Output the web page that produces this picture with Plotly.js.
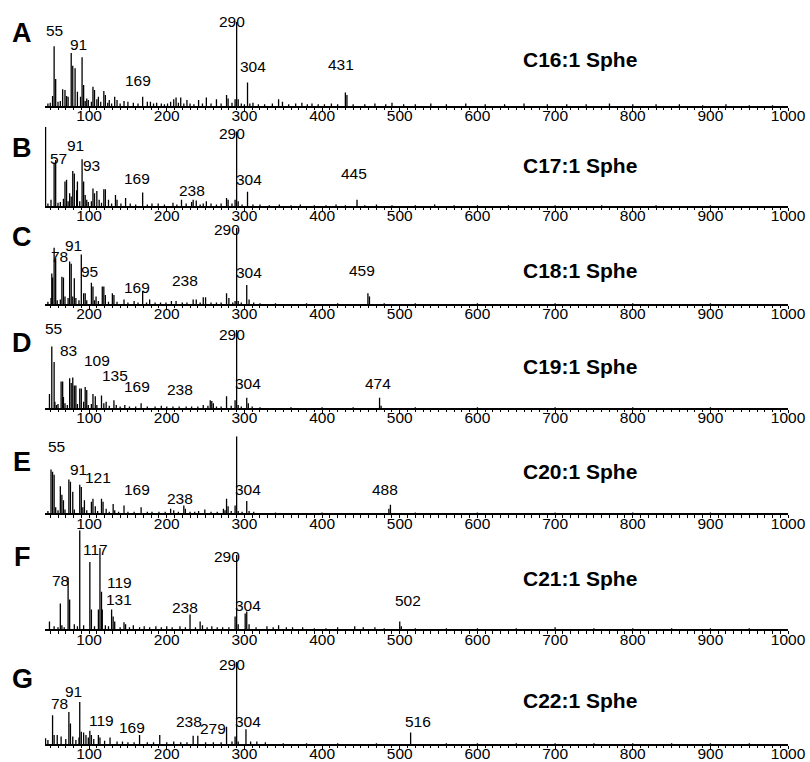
<!DOCTYPE html>
<html><head><meta charset="utf-8">
<script src="https://cdn.plot.ly/plotly-3.0.1.min.js"></script>
<style>html,body{margin:0;padding:0;background:#fff}</style>
</head><body><div id="chart" style="width:810px;height:762px"></div>
<script>
// ---------- DATA (m/z, relative intensity %) ----------
const panelLetters = ['A','B','C','D','E','F','G'];
const compounds = ['C16:1 Sphe','C17:1 Sphe','C18:1 Sphe','C19:1 Sphe','C20:1 Sphe','C21:1 Sphe','C22:1 Sphe'];
const tickValues = [100,200,300,400,500,600,700,800,900,1000];
const tickLabels = ['100','200','300','400','500','600','700','800','900','1000'];
const tickLabelsC = ['200','200','300','400','500','600','700','800','900','1000'];

const A_mz  = [47,50,53,55,57,60,63,66,69,71,73,77,79,82,85,89,91,93,95,97,99,103,105,107,110,112,115,119,121,124,126,129,133,136,140,145,150,157,163,169,175,179,183,187,193,197,201,205,209,212,215,218,222,226,230,235,241,246,251,257,264,270,277,279,284,288,290,292,296,300,304,307,311,318,326,336,344,349,357,366,374,381,387,395,403,412,420,430,432,440,455,468,482,490,505,520,540,560,585,610,635,660,690,715,740,770,800,830,860,890,920,950,980];
const A_int = [3,4,12,71,32,5,6,20,19,12,11,63,48,45,17,11,58,25,6,9,7,5,23,19,8,11,5,18,13,4,7,3,11,7,3,6,5,4,3,11,5,5,3,4,3,2,3,5,8,10,4,10,3,7,3,2,7,3,10,3,8,3,13,9,4,8,100,8,3,2,28,3,4,2,2,3,8,5,2,3,4,2,3,2,2,3,2,16,13,2,2,3,2,4,2,2,3,2,3,2,2,3,2,2,2,3,2,2,2,1,2,1,1];
const A_labText = ['55','91','169','290','304','431'];
const A_labX = [55,86,163,284,311,424];
const A_labY = [82,65,23,100,39,42];

const B_mz  = [44,47,51,55,57,60,63,67,69,71,73,75,77,79,81,84,85,88,91,93,95,97,99,103,105,107,110,113,116,119,121,125,129,134,136,141,147,153,160,169,175,181,189,197,208,213,219,225,232,234,238,243,247,251,257,264,270,277,279,284,288,290,292,297,304,311,320,332,345,360,372,390,405,418,430,445,455,470,490,520,545,570,600,640,700,760,830,900];
const B_int = [100,3,8,55,58,4,5,9,31,33,6,16,12,44,41,20,31,6,59,31,14,8,5,6,22,16,19,8,4,21,21,8,3,14,8,3,10,3,2,17,2,3,3,2,4,2,8,3,5,8,7,2,3,6,3,2,3,10,8,3,8,94,6,2,18,2,2,1,2,1,2,1,1,2,1,8,1,2,1,1,2,1,1,1,1,1,1,1];
const B_labText = ['57','91','93','169','238','290','304','445'];
const B_labX = [60,82,103,162,232,284,306,441];
const B_labY = [52,68,43,26,11,92,25,33];

const C_mz  = [47,51,52,53,55,57,59,63,65,67,69,73,75,77,79,81,83,87,90,93,95,97,103,105,107,109,112,117,119,121,125,130,132,136,145,150,158,163,169,174,178,185,192,199,206,212,220,226,234,238,243,247,250,257,264,270,277,280,285,288,290,292,296,303,306,312,320,340,380,420,459,461,480,520,600,700,800,900];
const C_int = [3,8,40,35,74,60,5,6,36,35,10,8,56,53,10,34,8,5,65,14,14,5,28,23,5,10,4,23,23,12,3,14,12,3,6,2,4,2,17,2,6,2,2,2,4,4,2,2,6,6,2,9,9,2,2,2,14,8,2,4,100,4,2,25,6,2,1,1,1,1,14,10,1,1,1,1,1,1];
const C_labText = ['78','91','95','169','238','290','304','459'];
const C_labX = [62,80,101,162,224,278,306,452];
const C_labY = [54,69,34,13,23,98,33,36];

const D_mz  = [49,52,55,56,58,60,64,66,67,69,72,75,77,79,81,83,85,88,90,93,95,97,99,103,105,108,110,116,119,122,126,132,135,140,146,152,160,167,175,185,193,200,208,216,225,232,240,247,253,256,258,260,264,270,277,283,288,290,292,296,303,305,310,320,360,400,440,474,476,520,600,700,800,900];
const D_int = [18,79,59,8,4,5,34,34,14,6,4,38,32,39,29,29,5,25,25,8,27,23,4,5,18,15,4,16,6,8,3,10,4,2,4,2,2,6,2,2,3,2,2,2,2,2,2,4,3,10,9,6,2,2,15,3,10,100,4,2,13,6,2,1,1,1,1,13,3,1,1,1,1,1];
const D_labText = ['55','83','109','135','169','238','290','304','474'];
const D_labX = [54,74,110,134,162,217,284,305,472];
const D_labY = [94,66,53,33,19,16,94,23,23];

const E_mz  = [47,51,53,55,57,60,63,65,67,69,74,76,79,81,88,90,92,94,97,103,105,108,111,116,118,122,126,131,133,138,145,150,158,167,175,181,190,198,205,209,215,222,224,230,236,241,249,257,265,273,275,277,279,283,288,290,292,297,303,306,312,340,400,486,488,520,600,700,800,900];
const E_int = [3,57,54,50,8,4,35,24,17,5,44,41,28,5,37,34,8,17,4,15,19,9,3,19,15,6,2,12,4,2,10,2,2,8,2,2,2,2,6,4,2,10,6,2,2,3,5,2,2,6,4,19,9,3,10,100,3,2,16,3,2,1,1,6,11,1,1,1,1,1];
const E_labText = ['55','91','121','169','238','290','304','488'];
const E_labX = [58,87,112,162,217,276,305,481];
const E_labY = [78,48,38,23,11,103,22,22];

const F_mz  = [49,55,60,63,65,68,73,75,81,85,88,93,101,103,107,112,114,116,117,121,125,129,131,133,140,145,147,152,157,165,171,178,186,193,200,207,217,224,230,237,243,246,252,258,265,272,280,288,290,292,301,303,306,315,329,337,344,354,362,375,390,405,420,442,453,468,480,500,502,520,560,600,650,700,750,800,850,900,950];
const F_int = [8,3,2,26,4,2,52,30,5,3,100,4,68,20,3,20,82,38,20,4,3,20,13,8,2,7,5,2,4,2,3,2,3,2,3,2,3,2,15,2,8,4,2,3,2,2,2,13,75,5,16,18,5,2,3,2,4,2,2,2,1,1,2,3,2,2,1,8,3,1,1,1,1,2,1,1,1,1,1];
const F_labText = ['78','117','119','131','238','290','304','502'];
const F_labX = [63,108,139,138,224,278,305,511];
const F_labY = [43,74,41,24,15,74,17,23];

const G_mz  = [44,47,53,55,59,64,70,74,76,79,83,87,88,90,93,96,99,101,103,106,112,114,120,127,136,143,150,158,165,175,183,191,200,209,218,226,234,240,250,260,270,277,284,288,290,292,302,308,316,327,350,380,420,470,514,560,600,650,700,750,800,850,900,950];
const G_int = [7,5,35,11,11,9,6,39,25,9,5,8,51,15,14,11,8,16,11,6,11,8,4,8,3,3,2,2,11,2,2,11,2,3,2,2,10,10,2,2,2,21,3,9,100,3,18,3,3,2,1,1,1,1,14,1,1,1,1,1,1,1,1,1];
const G_labText = ['78','91','119','169','238','279','290','304','516'];
const G_labX = [62,80,116,155,229,260,284,304,524];
const G_labY = [41,56,21,12,19,11,96,19,19];

const mzSets   = [A_mz,B_mz,C_mz,D_mz,E_mz,F_mz,G_mz];
const intSets  = [A_int,B_int,C_int,D_int,E_int,F_int,G_int];
const labTexts = [A_labText,B_labText,C_labText,D_labText,E_labText,F_labText,G_labText];
const labXs    = [A_labX,B_labX,C_labX,D_labX,E_labX,F_labX,G_labX];
const labYs    = [A_labY,B_labY,C_labY,D_labY,E_labY,F_labY,G_labY];

// ---------- LAYOUT (pixel geometry of each panel) ----------
const W = 810, H = 762;
const baselinePx = [106,206,304,408,513.3,629.3,744];
const fullHeightPx = [84,79.3,76,78,77,99,82.3];
const letterYPx = [33,148,237,343,462,557,679];
const titleYPx = [59,165,270,367,471,578,700];
const xDomain = [44.8/W, 788.1/W];
const FONT = 'Arial, "Liberation Sans", Helvetica, sans-serif';

const traces = [];
const layout = {
  width: W, height: H,
  margin: {l:0, r:0, t:0, b:0},
  paper_bgcolor: '#fff', plot_bgcolor: 'rgba(0,0,0,0)',
  showlegend: false,
  font: {family: FONT, color: '#000', size: 15},
  annotations: []
};

for (let i = 0; i < 7; i++) {
  const sfx = i === 0 ? '' : String(i + 1);
  const xs = [], ys = [];
  mzSets[i].forEach((m, k) => { xs.push(m, m, null); ys.push(0, intSets[i][k], null); });
  traces.push({
    type: 'scatter', mode: 'lines', x: xs, y: ys,
    xaxis: 'x' + sfx, yaxis: 'y' + sfx,
    line: {color: '#000', width: 1.3}, hoverinfo: 'skip', cliponaxis: false
  });
  const yb = (H - baselinePx[i]) / H;
  const yt = (H - baselinePx[i] + fullHeightPx[i]) / H;
  layout['xaxis' + sfx] = {
    domain: xDomain, range: [43, 1000], anchor: 'y' + sfx,
    showline: true, linecolor: '#000', linewidth: 1.8,
    showgrid: false, zeroline: false,
    tickmode: 'array', tickvals: tickValues, ticktext: i === 2 ? tickLabelsC : tickLabels,
    ticks: 'outside', ticklen: 3, tickwidth: 1, tickcolor: '#000',
    ticklabelstandoff: -8,
    minor: {tickmode: 'linear', tick0: 0, dtick: 10, ticks: 'outside', ticklen: 2.5, tickwidth: 1, tickcolor: '#000'},
    tickfont: {family: FONT, size: 15.5, color: '#000'},
    fixedrange: true
  };
  layout['yaxis' + sfx] = {
    domain: [yb, yt], range: [0, 100], anchor: 'x' + sfx,
    visible: false, fixedrange: true
  };
  // peak labels
  labTexts[i].forEach((t, k) => {
    const mid = (t === '290');
    layout.annotations.push({
      xref: 'x' + sfx, yref: 'y' + sfx, x: labXs[i][k], y: labYs[i][k],
      text: t, showarrow: false, xanchor: 'center',
      yanchor: mid ? 'middle' : 'bottom', yshift: mid ? 0 : -4,
      font: {family: FONT, size: 15.5, color: '#000'}
    });
  });
  // panel letter
  layout.annotations.push({
    xref: 'paper', yref: 'paper', x: 22 / W, y: 1 - letterYPx[i] / H,
    text: '<b>' + panelLetters[i] + '</b>', showarrow: false,
    xanchor: 'center', yanchor: 'middle',
    font: {family: FONT, size: 27, color: '#000'}
  });
  // compound title
  layout.annotations.push({
    xref: 'paper', yref: 'paper', x: 580 / W, y: 1 - titleYPx[i] / H,
    text: '<b>' + compounds[i] + '</b>', showarrow: false,
    xanchor: 'center', yanchor: 'middle',
    font: {family: FONT, size: 21, color: '#000'}
  });
}

Plotly.newPlot('chart', traces, layout, {staticPlot: true, displayModeBar: false});
</script>
</body></html>
